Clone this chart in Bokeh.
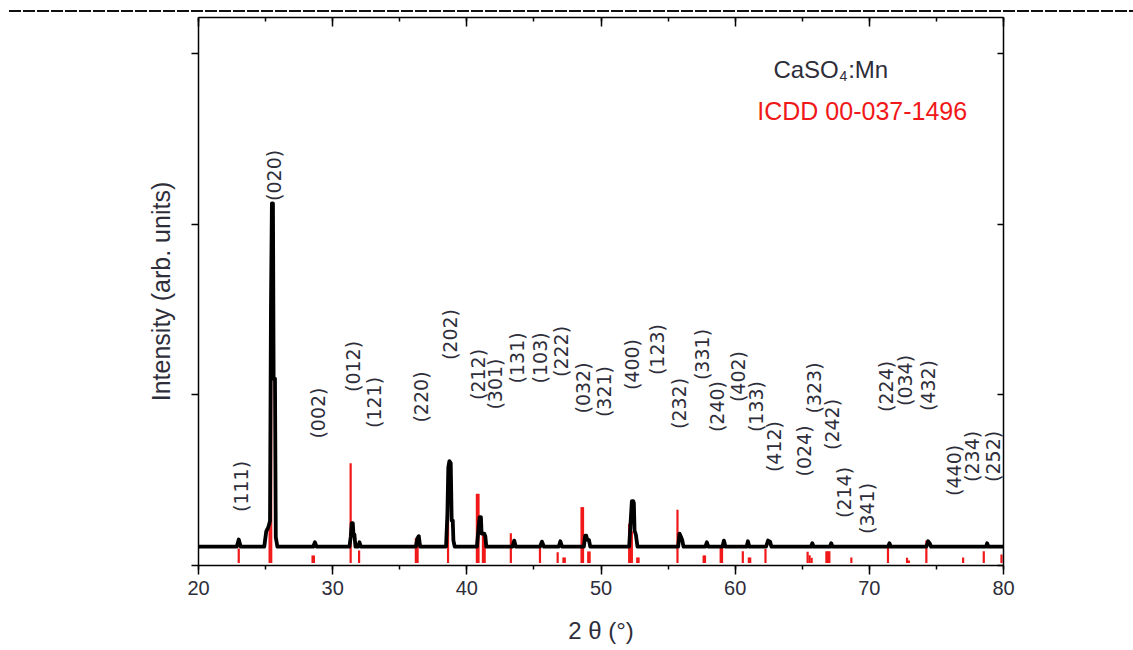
import math
from bokeh.plotting import figure
from bokeh.models import (Range1d, LinearAxis, SingleIntervalTicker, FixedTicker,
                          Label, ColumnDataSource, Div, CustomLabelingPolicy)
from bokeh.layouts import column
from bokeh.embed import file_html
from bokeh.resources import INLINE
from bokeh.core.properties import value

# ---------------- data ----------------
# measured XRD pattern of CaSO4:Mn (2theta in degrees, intensity arb. units)
pattern_2theta = [
    20.0, 22.85, 23.0, 23.15,
    24.9, 25.05, 25.2, 25.33, 25.4, 25.47, 25.55, 25.6, 25.7, 25.76, 25.88,
    28.55, 28.68, 28.8,
    31.25, 31.35, 31.42, 31.5, 31.55, 31.62, 31.7,
    31.9, 32.0, 32.1,
    36.2, 36.32, 36.42, 36.52,
    38.45, 38.55, 38.62, 38.7, 38.8, 38.87, 38.95, 39.0, 39.1,
    40.75, 40.85, 40.95, 41.05, 41.1, 41.3, 41.38, 41.45,
    43.4, 43.53, 43.65,
    45.45, 45.6, 45.75,
    46.85, 46.97, 47.1,
    48.72, 48.82, 48.9, 48.98, 49.1, 49.2,
    52.1, 52.2, 52.3, 52.4, 52.45, 52.5, 52.6, 52.72,
    55.75, 55.85, 55.95, 56.05, 56.15,
    57.78, 57.89, 58.0,
    59.05, 59.16, 59.28,
    60.85, 60.95, 61.05,
    62.3, 62.45, 62.6, 62.7,
    65.65, 65.75, 65.85,
    67.06, 67.16, 67.26,
    71.4, 71.5, 71.6,
    74.25, 74.38, 74.5, 74.6,
    78.7, 78.78, 78.88,
    80.0,
]
pattern_intensity = [
    110, 110, 152, 110,
    110, 200, 223, 260, 1500, 2121, 2121, 1095, 1095, 166, 110,
    110, 136, 110,
    110, 170, 248, 248, 182, 182, 110,
    110, 136, 110,
    110, 160, 172, 110,
    110, 300, 575, 611, 600, 264, 264, 146, 110,
    110, 200, 283, 283, 187, 187, 170, 110,
    110, 146, 110,
    110, 140, 110,
    110, 142, 110,
    110, 175, 175, 150, 150, 110,
    110, 244, 377, 377, 365, 205, 180, 110,
    110, 187, 170, 150, 110,
    110, 136, 110,
    110, 146, 110,
    110, 142, 110,
    110, 146, 140, 110,
    110, 130, 110,
    110, 130, 110,
    110, 130, 110,
    110, 142, 130, 110,
    110, 130, 110,
    110,
]

# ICDD 00-037-1496 reference lines
icdd_2theta = [
    23.0, 25.3, 25.42, 28.5, 28.6, 31.34, 31.97, 36.2, 36.33, 38.6,
    40.75, 40.87, 41.2, 41.33, 43.28, 45.45, 46.77, 47.2, 47.3,
    48.55, 48.66, 49.05, 49.15, 52.1, 52.2, 52.3, 52.7, 52.8, 55.7,
    57.65, 57.75, 58.92, 59.02, 60.57, 61.02, 61.12, 62.26,
    65.4, 65.55, 65.7, 66.8, 66.92, 67.02, 68.66, 71.39, 72.81, 72.95,
    74.25, 76.99, 78.53, 79.85,
]
icdd_intensity = [
    100, 220, 2021, 59, 59, 599, 88, 160, 166, 422,
    420, 420, 187, 187, 189, 111, 78, 47, 47,
    342, 342, 82, 82, 244, 244, 200, 47, 47, 326,
    59, 59, 107, 107, 84, 47, 47, 97,
    80, 60, 45, 84, 84, 84, 47, 103, 45, 30,
    146, 47, 84, 65,
]
icdd_base = 15

# Miller-index annotations
hkl_labels = [
    "(111)", "(020)", "(002)", "(012)", "(121)", "(220)", "(202)", "(212)",
    "(301)", "(131)", "(103)", "(222)", "(032)", "(321)", "(400)", "(123)",
    "(232)", "(331)", "(240)", "(402)", "(133)", "(412)", "(024)", "(323)",
    "(242)", "(214)", "(341)", "(224)", "(034)", "(432)", "(440)", "(234)",
    "(252)",
]
hkl_2theta = [
    23.17, 25.66, 28.87, 31.48, 33.11, 36.62, 38.78, 40.86,
    42.13, 43.77, 45.48, 47.05, 48.69, 50.25, 52.34, 54.20,
    55.84, 57.56, 58.67, 60.24, 61.58, 62.92, 65.16, 65.90,
    67.24, 68.14, 69.85, 71.27, 72.68, 74.40, 76.33, 77.68,
    79.24,
]
hkl_intensity = [
    463, 2285, 893, 1166, 955, 987, 1353, 1119,
    1063, 1216, 1216, 1254, 1040, 1019, 1177, 1265,
    949, 1236, 931, 1107, 931, 697, 671, 1040,
    826, 428, 334, 1049, 1084, 1054, 557, 639,
    639,
]

x_ticks_major = 10
y_ticks = [0, 1000, 2000, 3000]

# ---------------- figure ----------------
FONT = "Liberation Sans"
RED = "#f01818"
TXT = "#2e2e3a"

p = figure(width=1133, height=638,
           x_range=Range1d(20, 80), y_range=Range1d(0, 3210),
           output_backend="svg", toolbar_location=None,
           min_border_left=198, min_border_right=130,
           min_border_top=5, min_border_bottom=85,
           background_fill_color="white", border_fill_color="white")
p.outline_line_color = None
p.grid.visible = False


def no_labels():
    return CustomLabelingPolicy(code="""
        const all = [...indices]
        for (const i of all) indices.unset(i)
        return indices
    """)


# bottom axis
xa = p.xaxis[0]
xa.ticker = SingleIntervalTicker(interval=x_ticks_major, num_minor_ticks=2)
xa.axis_line_width = 1.5
xa.major_tick_line_width = 1.5
xa.minor_tick_line_width = 1.5
xa.major_tick_in = 0
xa.major_tick_out = 9
xa.minor_tick_in = 0
xa.minor_tick_out = 4
xa.major_label_text_font = FONT
xa.major_label_text_font_size = "20px"
xa.major_label_text_color = TXT
xa.major_label_standoff = 6
xa.axis_label = "2 θ (°)"
xa.axis_label_text_font = FONT
xa.axis_label_text_font_size = "24px"
xa.axis_label_text_font_style = "normal"
xa.axis_label_text_color = TXT
xa.axis_label_standoff = 19

# top axis (mirror, ticks inward)
ta = LinearAxis(ticker=SingleIntervalTicker(interval=x_ticks_major, num_minor_ticks=2),
                major_tick_in=9, major_tick_out=0, minor_tick_in=4, minor_tick_out=0,
                axis_line_width=1.5, major_tick_line_width=1.5, minor_tick_line_width=1.5,
                major_label_policy=no_labels(),
                major_label_text_font_size="1px", major_label_standoff=0)
p.add_layout(ta, "above")

# left axis (ticks and title, no tick labels)
ya = p.yaxis[0]
ya.ticker = FixedTicker(ticks=y_ticks, minor_ticks=[])
ya.axis_line_width = 1.5
ya.major_tick_line_width = 1.5
ya.major_tick_in = 0
ya.major_tick_out = 7
ya.major_label_policy = no_labels()
ya.major_label_text_font_size = "1px"
ya.major_label_standoff = 0
ya.axis_label = "Intensity (arb. units)"
ya.axis_label_text_font = FONT
ya.axis_label_text_font_size = "25px"
ya.axis_label_text_font_style = "normal"
ya.axis_label_text_color = TXT
ya.axis_label_standoff = 11

# right axis (mirror, ticks inward)
ra = LinearAxis(ticker=FixedTicker(ticks=y_ticks, minor_ticks=[]),
                major_tick_in=6, major_tick_out=0, minor_tick_in=0, minor_tick_out=0,
                axis_line_width=1.5, major_tick_line_width=1.5,
                major_label_policy=no_labels(),
                major_label_text_font_size="1px", major_label_standoff=0)
p.add_layout(ra, "right")

# ICDD sticks
icdd_src = ColumnDataSource(dict(x=icdd_2theta, h=icdd_intensity))
p.segment(x0="x", y0=icdd_base, x1="x", y1="h", source=icdd_src,
          line_color=RED, line_width=2.2)

# measured pattern
p.line(pattern_2theta, pattern_intensity, line_color="black", line_width=3.8,
       line_join="round")

# Miller indices
p.text(x=hkl_2theta, y=hkl_intensity, text=hkl_labels, angle=math.pi / 2,
       text_align="center", text_baseline="middle",
       text_font=value("DejaVu Sans"), text_font_size="19px", text_color=TXT)

# legend-like texts
p.add_layout(Label(x=62.85, y=2905, text="CaSO", text_font=FONT,
                   text_font_size="24px", text_color=TXT, text_baseline="alphabetic"))
p.add_layout(Label(x=67.78, y=2868, text="4", text_font=FONT,
                   text_font_size="14px", text_color=TXT, text_baseline="alphabetic"))
p.add_layout(Label(x=68.42, y=2905, text=":Mn", text_font=FONT,
                   text_font_size="24px", text_color=TXT, text_baseline="alphabetic"))
p.add_layout(Label(x=61.65, y=2660, text="ICDD 00-037-1496", text_font=FONT,
                   text_font_size="25px", text_color=RED, text_baseline="alphabetic"))

sep = Div(text='<div style="margin-left:9px;margin-top:9px;height:2.5px;width:1124px;'
               'background:repeating-linear-gradient(90deg,#111 0 12px,transparent 12px 14px);"></div>',
          width=1133, height=12, margin=(0, 0, 0, 0))

layout = column(sep, p, spacing=0)
open("out.html", "w").write(file_html(layout, INLINE))
